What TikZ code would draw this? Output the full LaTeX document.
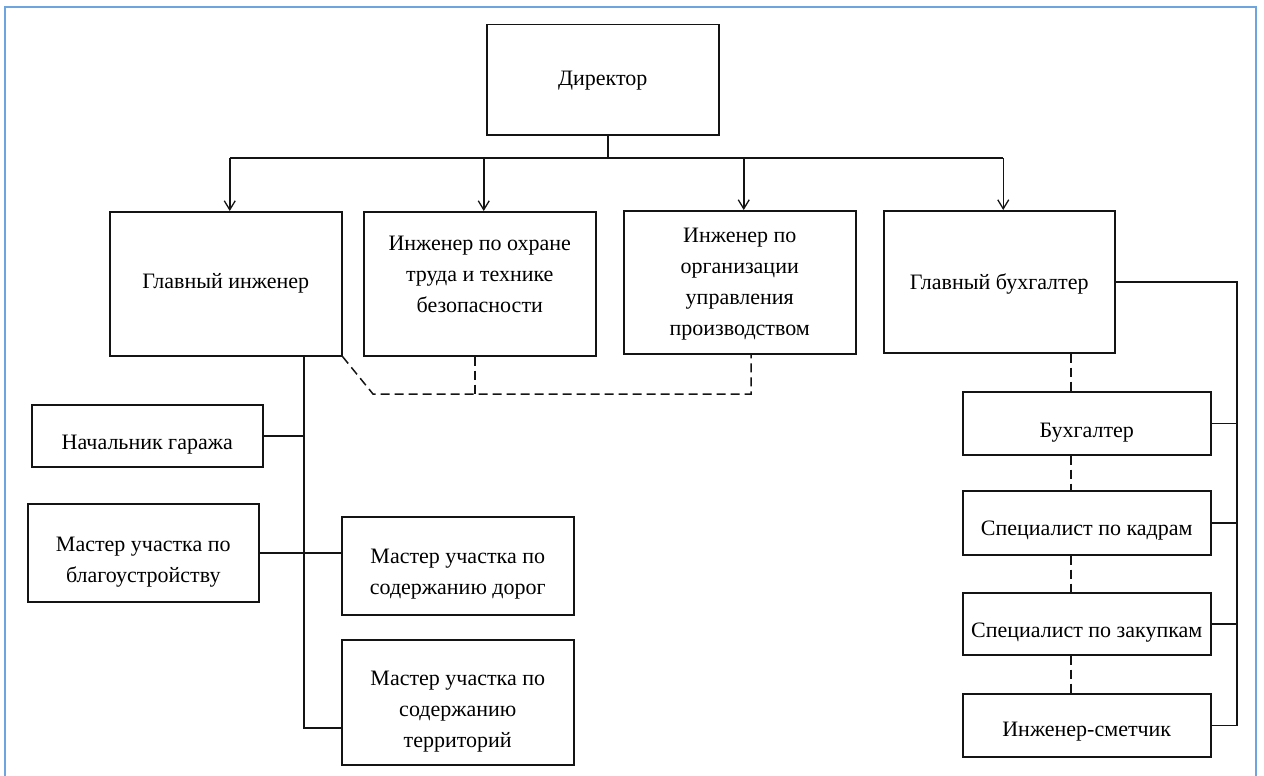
\documentclass[tikz,border=0pt]{standalone}
\usepackage{fontspec}
\setmainfont{Liberation Serif}
\usetikzlibrary{arrows.meta}
\definecolor{frameblue}{RGB}{110,165,222}
\definecolor{ink}{RGB}{20,20,20}
\begin{document}
\begin{tikzpicture}[x=1pt,y=-1pt,
 box/.style={draw=ink, line width=1.5pt, inner sep=0pt, anchor=north west},
 txt/.style={align=center, font=\fontsize{22}{31}\selectfont, inner sep=0pt},
 conn/.style={draw=ink, line width=1.5pt},
 dconn/.style={conn, dash pattern=on 9pt off 5pt},
 arr/.style={conn, -{Straight Barb[length=9pt,width=11pt,line width=1.3pt]}}]
\useasboundingbox (0,0) rectangle (1264,776);
\draw[frameblue, line width=2pt] (5,790) -- (5,7) -- (1256,7) -- (1256,790);

\node[box, minimum width=232pt, minimum height=110pt, label={[txt, yshift=-1pt]center:Директор}] (dir) at (486,24) {};
\node[box, minimum width=232pt, minimum height=144pt, label={[txt]center:Главный инженер}] (gi) at (109,211) {};
\node[box, minimum width=232pt, minimum height=144pt, label={[txt, yshift=9pt]center:{Инженер по охране\\труда и технике\\безопасности}}] (ot) at (363,211) {};
\node[box, minimum width=232pt, minimum height=143pt, label={[txt, yshift=-2pt]center:{Инженер по\\организации\\управления\\производством}}] (org) at (623,210) {};
\node[box, minimum width=231pt, minimum height=142pt, label={[txt, yshift=-2pt]center:Главный бухгалтер}] (gb) at (883,210) {};
\node[box, minimum width=231pt, minimum height=62pt, label={[txt, yshift=-9pt]center:Начальник гаража}] (ng) at (31,404) {};
\node[box, minimum width=231pt, minimum height=98pt, label={[txt, yshift=-9pt]center:{Мастер участка по\\благоустройству}}] (mb) at (27,503) {};
\node[box, minimum width=232pt, minimum height=98pt, label={[txt, yshift=-8pt]center:{Мастер участка по\\содержанию дорог}}] (md) at (341,516) {};
\node[box, minimum width=232pt, minimum height=125pt, label={[txt, yshift=-9pt]center:{Мастер участка по\\содержанию\\территорий}}] (mt) at (341,639) {};
\node[box, minimum width=248pt, minimum height=63pt, label={[txt, yshift=-9pt]center:Бухгалтер}] (bu) at (962,391) {};
\node[box, minimum width=248pt, minimum height=64pt, label={[txt, yshift=-8pt]center:Специалист по кадрам}] (sk) at (962,490) {};
\node[box, minimum width=248pt, minimum height=62pt, label={[txt, yshift=-9pt]center:Специалист по закупкам}] (sz) at (962,592) {};
\node[box, minimum width=248pt, minimum height=63pt, label={[txt, yshift=-6pt]center:Инженер-сметчик}] (is) at (962,693) {};

% director to bus
\coordinate (bus) at (608,158);
\draw[conn] (dir.south -| bus) -- (bus);
\draw[conn] ([xshift=4pt]gi.north |- bus) -- ([xshift=4pt]gb.north |- bus);
\draw[arr] ([xshift=4pt]gi.north |- bus) -- ([xshift=4pt]gi.north);
\draw[arr] ([xshift=4pt]ot.north |- bus) -- ([xshift=4pt]ot.north);
\draw[arr] ([xshift=4pt]org.north |- bus) -- ([xshift=4pt]org.north);
\draw[arr] ([xshift=4pt]gb.north |- bus) -- ([xshift=4pt]gb.north);

% dashed links
\coordinate (d1) at (373,394);
\coordinate (d2) at (751,394);
\coordinate (d3) at (475,394);
\draw[dconn] (gi.south east) -- (d1) -- (d2) -- (d2 |- org.south);
\draw[dconn] (d3 |- ot.south) -- (d3);

% chief engineer tree
\coordinate (gv) at (304,728);
\draw[conn] (gv |- gi.south) -- (gv) -- (gv -| mt.west);
\draw[conn] (ng.east) -- (ng.east -| gv);
\draw[conn] (mb.east) -- (mb.east -| md.west);

% chief accountant tree
\coordinate (rv) at (1237,283);
\draw[conn] (gb.east) -- (gb.east -| rv) -- (rv |- is.east) -- (is.east);
\draw[conn] (bu.east) -- (bu.east -| rv);
\draw[conn] (sk.east) -- (sk.east -| rv);
\draw[conn] (sz.east) -- (sz.east -| rv);
\coordinate (dv) at (1071,0);
\draw[dconn] (dv |- gb.south) -- (dv |- bu.north);
\draw[dconn] (dv |- bu.south) -- (dv |- sk.north);
\draw[dconn] (dv |- sk.south) -- (dv |- sz.north);
\draw[dconn] (dv |- sz.south) -- (dv |- is.north);
\end{tikzpicture}
\end{document}
